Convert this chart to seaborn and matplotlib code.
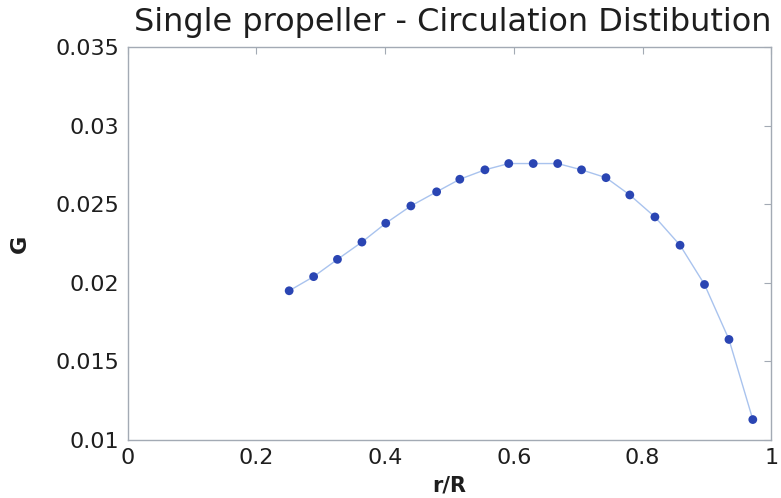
import matplotlib
matplotlib.use("Agg")
import matplotlib.pyplot as plt
import seaborn as sns
import pandas as pd

# Blade circulation distribution along the radius
r_over_R = [0.251, 0.289, 0.326, 0.364, 0.401, 0.440, 0.480, 0.516, 0.555, 0.592,
            0.630, 0.668, 0.705, 0.743, 0.780, 0.819, 0.858, 0.896, 0.934, 0.971]
G = [0.0195, 0.0204, 0.0215, 0.0226, 0.0238, 0.0249, 0.0258, 0.0266, 0.0272, 0.0276,
     0.0276, 0.0276, 0.0272, 0.0267, 0.0256, 0.0242, 0.0224, 0.0199, 0.0164, 0.0113]

x_ticks = [0, 0.2, 0.4, 0.6, 0.8, 1]
x_tick_labels = ["0", "0.2", "0.4", "0.6", "0.8", "1"]
y_ticks = [0.01, 0.015, 0.02, 0.025, 0.03, 0.035]
y_tick_labels = ["0.01", "0.015", "0.02", "0.025", "0.03", "0.035"]

df = pd.DataFrame({"r/R": r_over_R, "G": G})

sns.set_style("white")
plt.rcParams["font.family"] = ["DejaVu Sans"]

fig = plt.figure(figsize=(7.81, 4.98), dpi=100)
ax = fig.add_axes([0.1633, 0.1165, 0.8245, 0.7885])

sns.lineplot(data=df, x="r/R", y="G", ax=ax, color="#a9c3ee", linewidth=1.0,
             sort=False, estimator=None)
sns.scatterplot(data=df, x="r/R", y="G", ax=ax, color="#2a45b3", s=40,
                edgecolor="none", zorder=3)

ax.set_xlim(0, 1)
ax.set_ylim(0.01, 0.035)
ax.set_xticks(x_ticks)
ax.set_xticklabels(x_tick_labels)
ax.set_yticks(y_ticks)
ax.set_yticklabels(y_tick_labels)

for side in ["left", "right", "top", "bottom"]:
    ax.spines[side].set_visible(True)
    ax.spines[side].set_color("#a3aab4")
    ax.spines[side].set_linewidth(1.0)

ax.tick_params(axis="both", which="both", direction="in", length=5, width=0.8,
               color="#a3aab4", top=True, right=True, labelsize=16,
               labelcolor="#1e1e1e", pad=6)

ax.set_xlabel("r/R", fontsize=15, fontweight="bold", color="#1e1e1e", labelpad=5)
ax.set_ylabel("G", fontsize=16, fontweight="bold", color="#1e1e1e", labelpad=18)
ax.set_title("Single propeller - Circulation Distibution", fontsize=23,
             color="#1e1e1e", pad=12, x=0.505)

fig.savefig("out.png", dpi=100)
